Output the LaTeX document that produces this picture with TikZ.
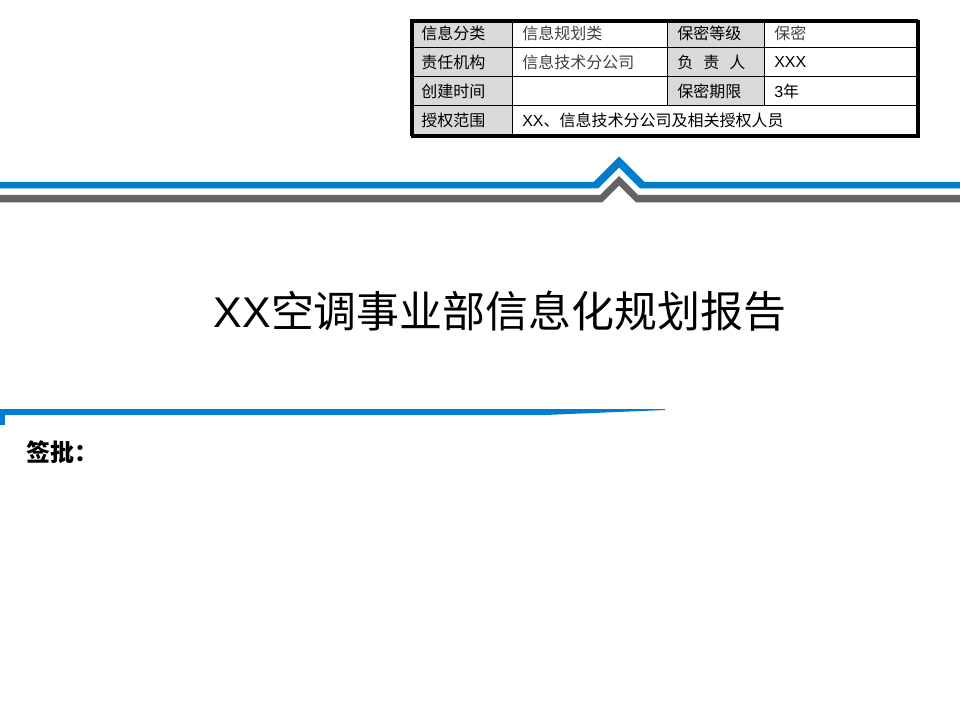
\documentclass[tikz,border=0pt]{standalone}
\usepackage{fontspec}
\setmainfont{Liberation Sans}
\newfontfamily\cjk{Noto Sans CJK SC}
\definecolor{bandblue}{RGB}{0,126,204}
\definecolor{bandgray}{RGB}{100,100,100}
\definecolor{cellgray}{RGB}{217,217,217}
\tikzset{
  celltxt/.style={anchor=west, inner sep=0pt, font=\cjk\fontsize{12pt}{14pt}\selectfont},
  valtxt/.style={celltxt, text=black!75},
  thinrule/.style={line width=0.75pt, black},
  frame/.style={line width=1.9pt, black},
}
\begin{document}
\begin{tikzpicture}[x=0.75pt,y=-0.75pt]
\useasboundingbox (0,0) rectangle (960,720);
% top bands with chevron
\fill[bandblue] (0,182) -- (593.5,182) -- (619,156.5) -- (644.5,182) -- (960,182) -- (960,188.5) -- (640,188.5) -- (619,167.5) -- (598,188.5) -- (0,188.5) -- cycle;
\fill[bandgray] (0,195) -- (600,195) -- (619,176) -- (638,195) -- (960,195) -- (960,202.5) -- (636,202.5) -- (619,185.5) -- (602,202.5) -- (0,202.5) -- cycle;
% lower band
\fill[bandblue] (0,409) -- (665,409) -- (665,410) -- (545,415) -- (0,415) -- cycle;
\fill[bandblue] (0,409) rectangle (4.5,425);
% table
\fill[cellgray] (411,20) rectangle (512,135);
\fill[cellgray] (667,20) rectangle (764,106);
\draw[thinrule] (411,47.5) -- (917,47.5);
\draw[thinrule] (411,77) -- (917,77);
\draw[thinrule] (411,106) -- (917,106);
\draw[thinrule] (512,20) -- (512,135);
\draw[thinrule] (667,20) -- (667,106);
\draw[thinrule] (764,20) -- (764,106);
\draw[frame] (412.5,21.5) rectangle (918.5,136.5);
\draw[frame] (411,20) rectangle (917,135);
% table texts
\node[celltxt] (h11) at (421,33.75) {信息分类};
\node[valtxt]  (v12) at (522,33.75) {信息规划类};
\node[celltxt] (h13) at (677,33.75) {保密等级};
\node[valtxt]  (v14) at (774,33.75) {保密};
\node[celltxt] (h21) at (421,62.25) {责任机构};
\node[valtxt]  (v22) at (522,62.25) {信息技术分公司};
\node[celltxt] (h23) at (677,62.25) {负\hspace{7.5pt}责\hspace{7.5pt}人};
\node[celltxt] (v24) at (774,62.25) {\rmfamily XXX};
\node[celltxt] (h31) at (421,91.5) {创建时间};
\node[celltxt] (h33) at (677,91.5) {保密期限};
\node[celltxt] (v34) at (774,91.5) {{\rmfamily 3}年};
\node[celltxt] (h41) at (421,120.5) {授权范围};
\node[celltxt] (v42) at (522,120.5) {{\rmfamily XX}、信息技术分公司及相关授权人员};
% title
\node[font=\fontsize{32.2pt}{38pt}\selectfont, inner sep=0pt] (title) at (500,311) {XX{\cjk 空调事业部信息化规划报告}};
% sign
\node[anchor=west, inner sep=0pt, font=\cjk\bfseries\fontsize{18pt}{22pt}\selectfont] (sign) at (26,452) {签批：};
\end{tikzpicture}
\end{document}
